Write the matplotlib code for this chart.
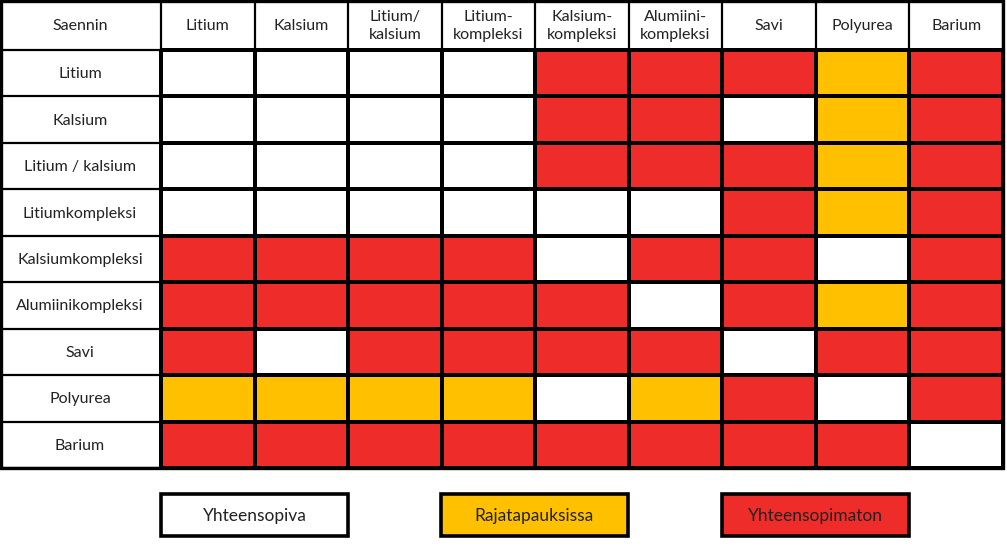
import matplotlib.pyplot as plt
import numpy as np
from matplotlib.colors import ListedColormap

# Taulukon tiedot
otsikko = "Saennin"
sarakkeet = ["Litium", "Kalsium", "Litium/\nkalsium", "Litium-\nkompleksi",
             "Kalsium-\nkompleksi", "Alumiini-\nkompleksi", "Savi", "Polyurea", "Barium"]
rivit = ["Litium", "Kalsium", "Litium / kalsium", "Litiumkompleksi",
         "Kalsiumkompleksi", "Alumiinikompleksi", "Savi", "Polyurea", "Barium"]
# 0 = yhteensopiva, 1 = rajatapauksissa, 2 = yhteensopimaton
matriisi = [
    [0, 0, 0, 0, 2, 2, 2, 1, 2],
    [0, 0, 0, 0, 2, 2, 0, 1, 2],
    [0, 0, 0, 0, 2, 2, 2, 1, 2],
    [0, 0, 0, 0, 0, 0, 2, 1, 2],
    [2, 2, 2, 2, 0, 2, 2, 0, 2],
    [2, 2, 2, 2, 2, 0, 2, 1, 2],
    [2, 0, 2, 2, 2, 2, 0, 2, 2],
    [1, 1, 1, 1, 0, 1, 2, 0, 2],
    [2, 2, 2, 2, 2, 2, 2, 2, 0],
]
selitteet = ["Yhteensopiva", "Rajatapauksissa", "Yhteensopimaton"]
varit = ["#FFFFFF", "#FFC000", "#EE2D2A"]

plt.rcParams["font.family"] = ["Lato", "DejaVu Sans"]

fig = plt.figure(figsize=(10.07, 5.46), dpi=100)
ax = fig.add_axes([0, 0, 1, 1])
ax.set_xlim(0, 1007)
ax.set_ylim(546, 0)
ax.axis("off")

# Ruudukon reunat pikseleinä
x_reunat = np.linspace(161, 1003, 10)
y_reunat = np.linspace(50, 468, 10)

cmap = ListedColormap(varit)
ax.pcolormesh(x_reunat, y_reunat, np.array(matriisi), cmap=cmap, vmin=-0.5, vmax=2.5,
              edgecolor="black", linewidth=1.6)

# Otsakerivi ja -sarake
for i, teksti in enumerate(sarakkeet):
    xc = (x_reunat[i] + x_reunat[i + 1]) / 2
    ax.text(xc, 26, teksti, ha="center", va="center", fontsize=11.5,
            color="#222222", linespacing=1.35)
ax.text(80, 26, otsikko, ha="center", va="center", fontsize=11.5, color="#222222")
for j, teksti in enumerate(rivit):
    yc = (y_reunat[j] + y_reunat[j + 1]) / 2
    ax.text(80, yc + 1, teksti, ha="center", va="center", fontsize=11.5, color="#222222")

# Viivat
kaikki_x = np.concatenate([[0], x_reunat])
kaikki_y = np.concatenate([[0], y_reunat])
for x in kaikki_x:
    ax.plot([x, x], [0, 468], color="black", linewidth=1.6)
for y in kaikki_y:
    ax.plot([0, 1003], [y, y], color="black", linewidth=1.6)
ax.add_patch(plt.Rectangle((1, 1), 1002, 467, fill=False, edgecolor="black", linewidth=2.4))

# Selite
selite_x = [161, 441, 722]
for x, teksti, vari in zip(selite_x, selitteet, varit):
    ax.add_patch(plt.Rectangle((x, 494), 187, 42, facecolor=vari,
                               edgecolor="black", linewidth=2.6))
    ax.text(x + 93.5, 516, teksti, ha="center", va="center", fontsize=12.5, color="#222222")

plt.savefig("out.png", dpi=100)
